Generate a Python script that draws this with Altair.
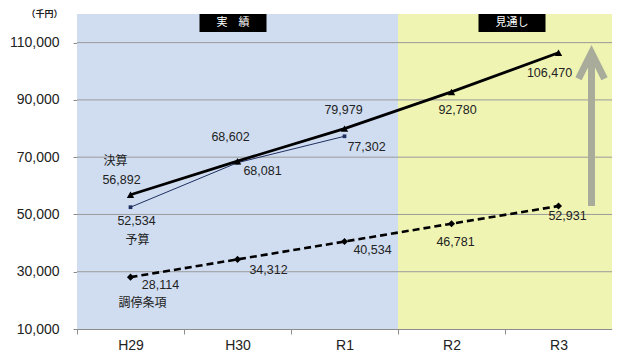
import altair as alt
import pandas as pd

# ---- data ----
categories = ["H29", "H30", "R1", "R2", "R3"]
phase = ["実績", "実績", "実績", "見通し", "見通し"]
kessan = [56892, 68602, 79979, 92780, 106470]      # 決算
yosan = [52534, 68081, 77302]                       # 予算 (H29-R1)
chotei = [28114, 34312, 40534, 46781, 52931]        # 調停条項
y_ticks = [10000, 30000, 50000, 70000, 90000, 110000]
grid_values = [30000, 50000, 70000, 90000, 110000]
headers = ["実　績", "見通し"]
header_anchor = ["H30", "R2"]
series_names = ["決算", "予算", "調停条項"]

# ---- layout / style ----
W, H = 535, 315
NUM_FONT = "Liberation Sans"
JP_FONT = "Noto Sans CJK JP"

rows = []
for c, v in zip(categories, kessan):
    rows.append({"series": "決算", "cat": c, "v": v})
for c, v in zip(categories, yosan):
    rows.append({"series": "予算", "cat": c, "v": v})
for c, v in zip(categories, chotei):
    rows.append({"series": "調停条項", "cat": c, "v": v})
df = pd.DataFrame(rows)

x_scale = alt.Scale(domain=categories, paddingInner=0, paddingOuter=0)
y_scale = alt.Scale(domain=[10000, 120000], nice=False, zero=False)

x_axis = alt.Axis(title=None, labelAngle=0, tickBand="extent", labelFontSize=14,
                  labelFont=NUM_FONT, labelColor="#222", labelPadding=4,
                  domainColor="#8c8c8c", tickColor="#8c8c8c", tickSize=5, grid=False)
y_axis = alt.Axis(title="（千円）", values=y_ticks, format=",d", labelFontSize=14,
                  labelFont=NUM_FONT, labelColor="#222", labelPadding=14, tickSize=4,
                  domainColor="#8c8c8c", tickColor="#8c8c8c", grid=False,
                  titleAngle=0, titleX=-33, titleY=-1, titleAlign="center",
                  titleBaseline="middle", titleFontSize=9, titleFont=JP_FONT,
                  titleFontWeight="bold", titleColor="#222")


def X(field="cat"):
    return alt.X(f"{field}:N", scale=x_scale, sort=categories, axis=x_axis)


def Y(field="v"):
    return alt.Y(f"{field}:Q", scale=y_scale, axis=y_axis)


# background bands
df_bg = pd.DataFrame({"cat": categories, "phase": phase})
bg = alt.Chart(df_bg).mark_rect().encode(
    x=X(),
    y=alt.value(0), y2=alt.value(H),
    color=alt.Color("phase:N", scale=alt.Scale(domain=["実績", "見通し"],
                                               range=["#d0ddf1", "#eff4b3"]), legend=None),
)

# gridlines
df_grid = pd.DataFrame({"v": grid_values})
grid = alt.Chart(df_grid).mark_rule(color="#9a9a9a", strokeWidth=1).encode(y=Y())

base = alt.Chart(df)


def ser(name):
    return base.transform_filter(alt.datum.series == name)


k_line = ser("決算").mark_line(color="black", strokeWidth=2.8).encode(x=X(), y=Y())
k_pts = ser("決算").mark_point(shape="triangle-up", filled=True, size=55, color="black",
                               opacity=1).encode(x=X(), y=Y())
y_line = ser("予算").mark_line(color="#1f2f5f", strokeWidth=1).encode(x=X(), y=Y())
y_pts = ser("予算").mark_square(size=14, color="#1f2f5f", opacity=1).encode(x=X(), y=Y())
c_line = ser("調停条項").mark_line(color="black", strokeWidth=2.6,
                                  strokeDash=[7, 4]).encode(x=X(), y=Y())
c_pts = ser("調停条項").mark_point(shape="diamond", filled=True, size=50, color="black",
                                  opacity=1).encode(x=X(), y=Y())

# arrow (increase from 調停条項 to 決算 at R3)
df_arrow = pd.DataFrame({"cat": [categories[-1]], "v": [chotei[-1]], "v2": [kessan[-1]]})
ARROW_COLOR = "#a9ab9b"
shaft = alt.Chart(df_arrow).mark_rule(color=ARROW_COLOR, strokeWidth=7, xOffset=33).encode(
    x=X(), y=Y(), y2="v2:Q")
head = alt.Chart(df_arrow).mark_point(shape="M-1,1L0,-1L1,1", filled=False, size=676,
                                      strokeWidth=7, color=ARROW_COLOR, opacity=1,
                                      xOffset=33, yOffset=13).encode(x=X(), y=Y("v2"))

# value labels
value_offsets = {
    ("決算", "H29"): (-9, -15), ("決算", "H30"): (-7, -24), ("決算", "R1"): (-1, -19),
    ("決算", "R2"): (6, 18), ("決算", "R3"): (-9, 20),
    ("予算", "H29"): (6, 14), ("予算", "H30"): (25, 8), ("予算", "R1"): (22, 11),
    ("調停条項", "H29"): (30, 8), ("調停条項", "H30"): (31, 11), ("調停条項", "R1"): (28, 8),
    ("調停条項", "R2"): (4, 18), ("調停条項", "R3"): (9, 10),
}
name_offsets = {"決算": (-15, -34), "予算": (7, 33), "調停条項": (12, 26)}

labels = []
for (s, c), (dx, dy) in value_offsets.items():
    labels.append(
        base.transform_filter((alt.datum.series == s) & (alt.datum.cat == c))
        .mark_text(dx=dx, dy=dy, fontSize=12.5, font=NUM_FONT, color="#222",
                   align="center", baseline="middle")
        .encode(x=X(), y=Y(), text=alt.Text("v:Q", format=","))
    )
for s, (dx, dy) in name_offsets.items():
    labels.append(
        base.transform_filter((alt.datum.series == s) & (alt.datum.cat == categories[0]))
        .mark_text(dx=dx, dy=dy, fontSize=12, font=JP_FONT, color="#222",
                   align="center", baseline="middle")
        .encode(x=X(), y=Y(), text="series:N")
    )

# header boxes
df_head = pd.DataFrame({"label": headers, "cat": header_anchor})
head_offsets = {"実　績": -4.5, "見通し": 60.5}
head_layers = []
for lab, off in head_offsets.items():
    hb = alt.Chart(df_head).transform_filter(alt.datum.label == lab)
    head_layers.append(hb.mark_bar(width=67, color="black", xOffset=off).encode(
        x=X(), y=alt.value(0), y2=alt.value(18)))
    head_layers.append(hb.mark_text(color="white", fontSize=11, font=JP_FONT,
                                    xOffset=off, baseline="middle", align="center").encode(
        x=X(), y=alt.value(9), text="label:N"))

chart = alt.layer(
    bg, grid, y_line, y_pts, c_line, c_pts, k_line, k_pts, shaft, head,
    *labels, *head_layers
).properties(
    width=W, height=H,
    autosize=alt.AutoSizeParams(type="none"),
    padding={"left": 69, "top": 6, "right": 0, "bottom": 26},
).configure_view(stroke="#8c8c8c", strokeWidth=1).configure(background="white")

chart.save("out.html", embed_options={"renderer": "svg", "actions": False})
